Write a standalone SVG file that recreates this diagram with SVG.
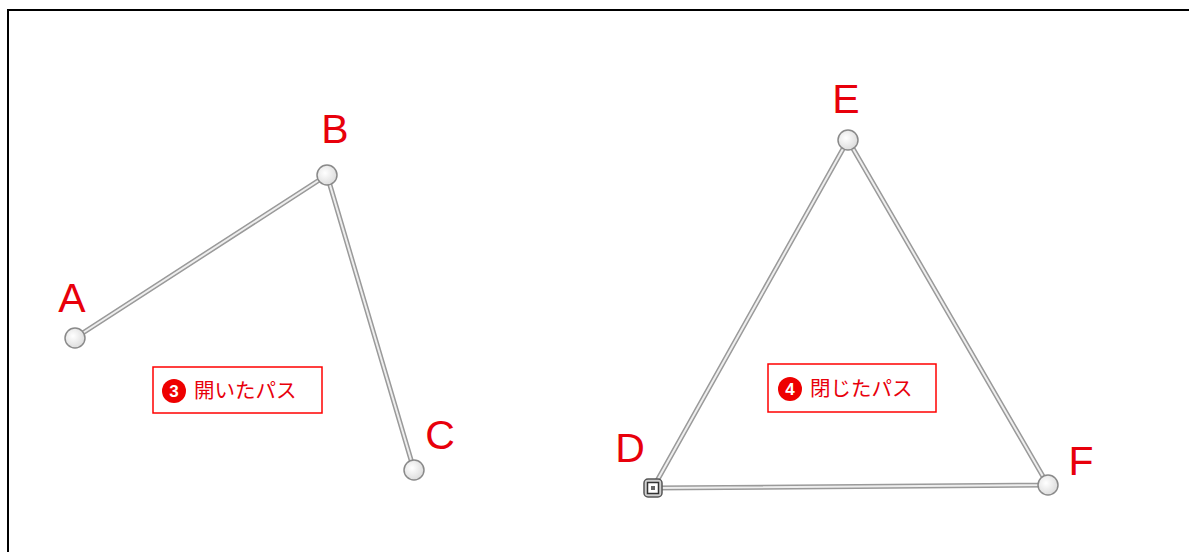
<svg xmlns="http://www.w3.org/2000/svg" width="1189" height="552" viewBox="0 0 1189 552">
<defs>
<radialGradient id="pt" cx="0.4" cy="0.4" r="0.7">
<stop offset="0" stop-color="#ffffff"/>
<stop offset="1" stop-color="#d8d8d8"/>
</radialGradient>
<style>
.outer{stroke:#9a9a9a;stroke-width:5;fill:none;stroke-linecap:round;stroke-linejoin:round}
.inner{stroke:#eeeeee;stroke-width:2;fill:none;stroke-linecap:round;stroke-linejoin:round}
.pt{fill:url(#pt);stroke:#8a8a8a;stroke-width:1.5}
.lbl{font-family:"Liberation Sans",Arial,sans-serif;font-size:41px;fill:#e8000b;text-anchor:middle}
.box{fill:#ffffff;stroke:#ff0000;stroke-width:1.5}
.cap{font-family:"Noto Sans CJK JP",sans-serif;font-size:20.5px;fill:#e8000b}
.num{fill:#ee0000}
.numt{font-family:"Liberation Sans",Arial,sans-serif;font-size:17px;font-weight:bold;fill:#ffffff;text-anchor:middle}
</style>
</defs>
<rect x="0" y="0" width="1189" height="552" fill="#ffffff"/>
<rect x="8" y="10" width="1200" height="600" fill="none" stroke="#000000" stroke-width="2"/>
<g id="connectors">
<polyline class="outer" points="75,338 327,175 414,470"/>
<polyline class="inner" points="75,338 327,175 414,470"/>
<polygon class="outer" points="653,488 848,140 1048,485"/>
<polygon class="inner" points="653,488 848,140 1048,485"/>
</g>
<g id="node-A"><circle class="pt" cx="75" cy="338" r="10"/><text class="lbl" x="72" y="312">A</text></g>
<g id="node-B"><circle class="pt" cx="327" cy="175" r="10"/><text class="lbl" x="335" y="143">B</text></g>
<g id="node-C"><circle class="pt" cx="414" cy="470" r="10"/><text class="lbl" x="440" y="449">C</text></g>
<g id="node-D">
<rect x="644" y="479" width="18" height="18" rx="4" fill="#d0d0d0" stroke="#555555" stroke-width="1.5"/>
<rect x="647.5" y="482.5" width="11" height="11" fill="#ffffff" stroke="#333333" stroke-width="1.5"/>
<rect x="651" y="486" width="4" height="4" fill="#666666"/>
<text class="lbl" x="630" y="462">D</text>
</g>
<g id="node-E"><circle class="pt" cx="848" cy="140" r="10"/><text class="lbl" x="846" y="113">E</text></g>
<g id="node-F"><circle class="pt" cx="1048" cy="485" r="10"/><text class="lbl" x="1081" y="475">F</text></g>
<g id="label-open">
<rect class="box" x="153" y="367" width="169" height="46"/>
<circle class="num" cx="174" cy="391" r="12"/>
<text class="numt" x="174" y="397">3</text>
<text class="cap" x="194" y="398">開いたパス</text>
</g>
<g id="label-closed">
<rect class="box" x="768" y="364" width="168" height="48"/>
<circle class="num" cx="790" cy="389" r="12"/>
<text class="numt" x="790" y="395">4</text>
<text class="cap" x="810" y="396">閉じたパス</text>
</g>
</svg>
